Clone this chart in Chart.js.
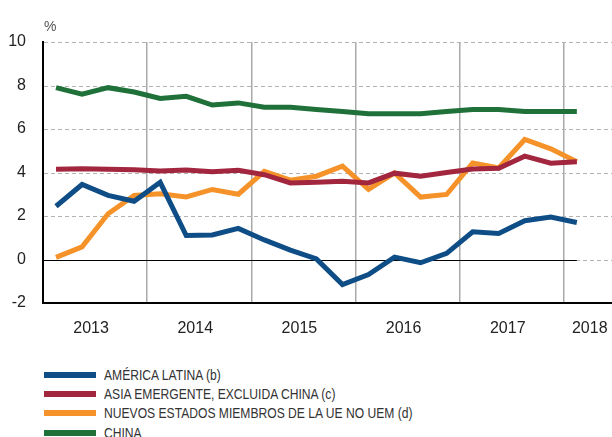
<!DOCTYPE html>
<html lang="es">
<head>
<meta charset="utf-8">
<title>PIB economías emergentes</title>
<script src="https://cdn.jsdelivr.net/npm/chart.js@4.4.0/dist/chart.umd.min.js"></script>
<style>
  html, body { margin: 0; padding: 0; background: #fff; }
  #wrap { position: relative; width: 612px; height: 437px; overflow: hidden; }
  #chartBox { position: absolute; left: 0; top: 0; width: 612px; height: 345px; }
  #unit {
    position: absolute; left: 44px; top: 18px;
    font: 14px 'Liberation Sans', Arial, sans-serif; color: #555;
  }
  #legend { position: absolute; left: 44px; top: 365px; }
  .row { display: flex; align-items: center; height: 19.3px; }
  .swatch { width: 52px; height: 6px; margin-right: 8px; flex: none; }
  .row span {
    display: inline-block;
    font: 14.5px 'Liberation Sans', Arial, sans-serif;
    color: #333; white-space: nowrap;
    transform: scaleX(0.835); transform-origin: left center;
  }
</style>
</head>
<body>
<div id="wrap">
  <div id="chartBox"><canvas id="chart"></canvas></div>
  <div id="unit">%</div>
  <div id="legend"></div>
</div>
<script>
// quarterly data, 2013 Q1 .. 2018 Q1
const quarters = [
  '2013 T1', '2013 T2', '2013 T3', '2013 T4',
  '2014 T1', '2014 T2', '2014 T3', '2014 T4',
  '2015 T1', '2015 T2', '2015 T3', '2015 T4',
  '2016 T1', '2016 T2', '2016 T3', '2016 T4',
  '2017 T1', '2017 T2', '2017 T3', '2017 T4',
  '2018 T1'
];
const americaLatina = [2.45, 3.45, 2.95, 2.68, 3.55, 1.1, 1.13, 1.43, 0.9, 0.43, 0.03,
  -1.15, -0.69, 0.11, -0.15, 0.28, 1.27, 1.2, 1.78, 1.95, 1.7];
const asiaEmergente = [4.15, 4.17, 4.15, 4.13, 4.07, 4.12, 4.03, 4.1, 3.9, 3.52, 3.55,
  3.6, 3.52, 3.97, 3.83, 4.0, 4.16, 4.2, 4.75, 4.43, 4.49];
const nuevosEstados = [0.1, 0.58, 2.1, 2.94, 3.02, 2.88, 3.22, 3.0, 4.05, 3.65, 3.83,
  4.29, 3.22, 3.98, 2.87, 2.99, 4.44, 4.21, 5.52, 5.09, 4.49];
const china = [7.9, 7.6, 7.9, 7.7, 7.4, 7.5, 7.1, 7.2, 7.0, 7.0, 6.9,
  6.8, 6.7, 6.7, 6.7, 6.8, 6.9, 6.9, 6.8, 6.8, 6.8];

const years = ['2013', '2014', '2015', '2016', '2017', '2018'];
// year label positions (in quarter index units) and year separators
const yearLabelPos = [1.5, 5.5, 9.5, 13.5, 17.5, 20.65];
const yearBreaks = [3.5, 7.5, 11.5, 15.5, 19.5];
const yTicks = [-2, 0, 2, 4, 6, 8, 10];

const series = [
  { label: 'AMÉRICA LATINA (b)', data: americaLatina, color: '#0e4d85' },
  { label: 'ASIA EMERGENTE, EXCLUIDA CHINA (c)', data: asiaEmergente, color: '#a3263f' },
  { label: 'NUEVOS ESTADOS MIEMBROS DE LA UE NO UEM (d)', data: nuevosEstados, color: '#f5932a' },
  { label: 'CHINA', data: china, color: '#1f7139' }
];

// dashed horizontal grid, drawn from the y scale ticks
const dashedGrid = {
  id: 'dashedGrid',
  beforeDatasetsDraw(chart) {
    const { ctx, chartArea, scales } = chart;
    ctx.save();
    ctx.strokeStyle = '#b3b3b3';
    ctx.lineWidth = 1;
    ctx.setLineDash([4, 3]);
    scales.y.ticks.forEach(t => {
      if (t.value === scales.y.min) return;
      const y = Math.round(scales.y.getPixelForValue(t.value)) + 0.5;
      ctx.beginPath();
      ctx.moveTo(chartArea.left + 1, y);
      ctx.lineTo(chartArea.right, y);
      ctx.stroke();
    });
    ctx.restore();
  }
};

// solid zero line, only across the quarters with data
const zeroLine = {
  id: 'zeroLine',
  beforeDatasetsDraw(chart) {
    const { ctx, chartArea, scales } = chart;
    const y = Math.round(scales.y.getPixelForValue(0)) + 0.5;
    const xEnd = scales.x.getPixelForValue(quarters.length - 1);
    ctx.save();
    ctx.strokeStyle = '#000';
    ctx.lineWidth = 1;
    ctx.beginPath();
    ctx.moveTo(chartArea.left, y);
    ctx.lineTo(xEnd, y);
    ctx.stroke();
    ctx.restore();
  }
};

Chart.defaults.font.family = "'Liberation Sans', Arial, sans-serif";
Chart.defaults.color = '#222';

const chart = new Chart(document.getElementById('chart'), {
  type: 'line',
  data: {
    datasets: series.map(s => ({
      label: s.label,
      data: s.data.map((v, i) => ({ x: i, y: v })),
      borderColor: s.color,
      backgroundColor: s.color,
      borderWidth: 5,
      pointRadius: 0,
      tension: 0,
      fill: false
    }))
  },
  options: {
    responsive: true,
    maintainAspectRatio: false,
    animation: false,
    layout: { padding: { top: 42, right: 0, bottom: 0, left: 0 } },
    plugins: {
      legend: { display: false },
      tooltip: { enabled: false }
    },
    scales: {
      x: {
        type: 'linear',
        min: -0.5,
        max: 21.35,
        afterBuildTicks: (scale) => {
          // labels first, separators last, so edge padding stays zero
          scale.ticks = yearLabelPos.map(v => ({ value: v }))
            .concat(yearBreaks.map(v => ({ value: v })));
        },
        afterFit: (scale) => { scale.height = 42; },
        grid: {
          drawTicks: false,
          lineWidth: 1.5,
          color: (ctx) => (ctx.tick && yearBreaks.includes(ctx.tick.value)) ? '#aaa' : 'rgba(0,0,0,0)'
        },
        border: { color: '#000', width: 2, z: 1 },
        ticks: {
          autoSkip: false,
          maxRotation: 0,
          padding: 16,
          labelOffset: -4,
          font: { size: 16 },
          color: '#222',
          callback: (value) => {
            const i = yearLabelPos.indexOf(value);
            return i >= 0 ? years[i] : '';
          }
        }
      },
      y: {
        min: -2,
        max: 10,
        afterBuildTicks: (scale) => {
          scale.ticks = yTicks.map(v => ({ value: v }));
        },
        afterFit: (scale) => { scale.width = 43; },
        grid: { drawTicks: false, color: 'rgba(0,0,0,0)' },
        border: { color: '#000', width: 2 },
        ticks: {
          padding: 17,
          font: { size: 16 },
          color: '#222'
        }
      }
    }
  },
  plugins: [dashedGrid, zeroLine]
});

// one legend entry per row, taken from the datasets
const legendEl = document.getElementById('legend');
chart.data.datasets.forEach(ds => {
  const row = document.createElement('div');
  row.className = 'row';
  const sw = document.createElement('div');
  sw.className = 'swatch';
  sw.style.background = ds.borderColor;
  const txt = document.createElement('span');
  txt.textContent = ds.label;
  row.appendChild(sw);
  row.appendChild(txt);
  legendEl.appendChild(row);
});
</script>
</body>
</html>
